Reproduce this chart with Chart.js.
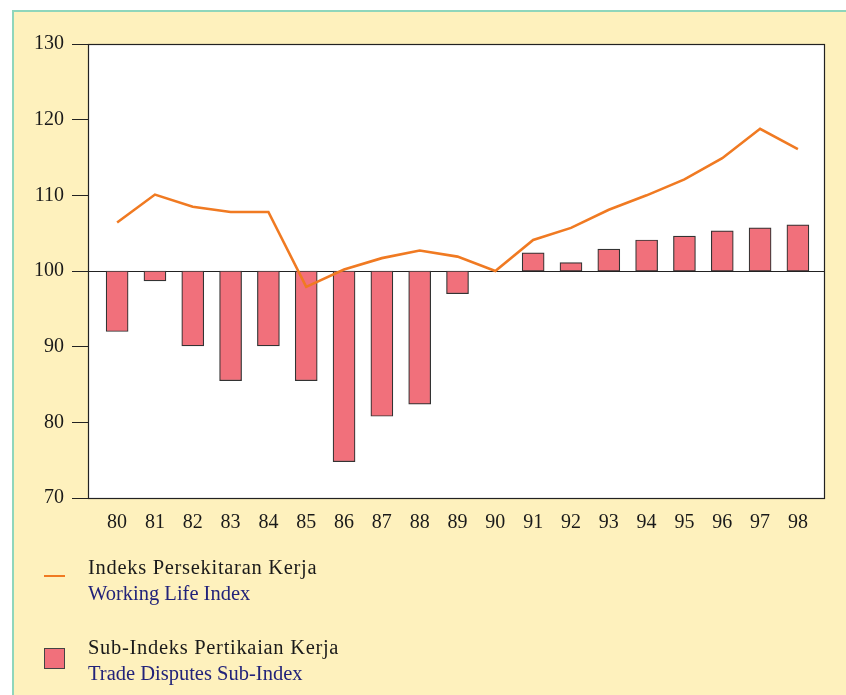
<!DOCTYPE html>
<html>
<head>
<meta charset="utf-8">
<script src="https://cdn.jsdelivr.net/npm/chart.js@4"></script>
<style>
  html, body { margin: 0; padding: 0; background: #fff; }
  #frame {
    position: absolute; left: 12px; top: 10px; width: 834px; height: 685px;
    background: #fef1bd; border-left: 2px solid #8fd6bb; border-top: 2px solid #8fd6bb;
  }
  #chart { position: absolute; left: 0; top: 0; }
  .legend { position: absolute; font-family: "Liberation Serif", serif; font-size: 20.5px; line-height: 26px; }
  .legend .ms { color: #1a1a1a; letter-spacing: 0.7px; }
  .legend .en { color: #22237a; }
  .swatch-line { position: absolute; left: 44px; top: 575px; width: 21px; height: 2px; background: #f07a22; }
  .swatch-box { position: absolute; left: 44px; top: 648px; width: 19px; height: 19px; background: #f1707b; border: 1px solid #444; }
</style>
</head>
<body>
<div id="frame"></div>
<canvas id="chart" width="846" height="695"></canvas>
<div class="swatch-line"></div>
<div class="legend" style="left:88px; top:554px;"><div class="ms">Indeks Persekitaran Kerja</div><div class="en">Working Life Index</div></div>
<div class="swatch-box"></div>
<div class="legend" style="left:88px; top:634px;"><div class="ms">Sub-Indeks Pertikaian Kerja</div><div class="en">Trade Disputes Sub-Index</div></div>
<script>
// tahun 1980 - 1998
const years = [80, 81, 82, 83, 84, 85, 86, 87, 88, 89, 90, 91, 92, 93, 94, 95, 96, 97, 98];
// Sub-Indeks Pertikaian Kerja (bar, dari garis 100)
const disputes = [92.0, 98.7, 90.1, 85.5, 90.1, 85.5, 74.8, 80.8, 82.4, 97.0, null, 102.4, 101.1, 102.9, 104.1, 104.6, 105.3, 105.7, 106.1];
// Indeks Persekitaran Kerja (garis)
const workingLife = [106.4, 110.1, 108.5, 107.8, 107.8, 97.9, 100.2, 101.7, 102.7, 101.9, 100.0, 104.1, 105.7, 108.1, 110.0, 112.1, 114.9, 118.8, 116.1];
const yTicks = [70, 80, 90, 100, 110, 120, 130];
const baseValue = 100;

const FONT = '"Liberation Serif", serif';

const plotFrame = {
  id: 'plotFrame',
  beforeDatasetsDraw(chart) {
    const { ctx, chartArea: a, scales } = chart;
    ctx.save();
    ctx.fillStyle = '#ffffff';
    ctx.fillRect(a.left, a.top, a.right - a.left, a.bottom - a.top);
    // garis 100
    const y = Math.round(scales.y.getPixelForValue(baseValue)) + 0.5;
    ctx.strokeStyle = '#222';
    ctx.lineWidth = 1;
    ctx.beginPath();
    ctx.moveTo(a.left, y);
    ctx.lineTo(a.right, y);
    ctx.stroke();
    ctx.restore();
  },
  afterDatasetsDraw(chart) {
    const { ctx, chartArea: a } = chart;
    ctx.save();
    ctx.strokeStyle = '#222';
    ctx.lineWidth = 1.2;
    ctx.strokeRect(Math.round(a.left) + 0.5, Math.round(a.top) + 0.5, Math.round(a.right - a.left), Math.round(a.bottom - a.top));
    ctx.restore();
  }
};

new Chart(document.getElementById('chart'), {
  data: {
    datasets: [
      {
        type: 'line',
        label: 'Indeks Persekitaran Kerja',
        data: years.map((x, i) => ({ x: x, y: workingLife[i] })),
        borderColor: '#f07a22',
        borderWidth: 2.6,
        pointRadius: 0,
        tension: 0,
        order: 0
      },
      {
        type: 'bar',
        label: 'Sub-Indeks Pertikaian Kerja',
        data: years.map((x, i) => ({ x: x, y: disputes[i] === null ? null : [baseValue, disputes[i]] })),
        backgroundColor: '#f1707b',
        borderColor: '#333333',
        borderWidth: 1.2,
        borderSkipped: false,
        barThickness: 22,
        order: 1
      }
    ]
  },
  options: {
    responsive: false,
    animation: false,
    layout: { padding: { left: 0, top: 44, right: 22, bottom: 0 } },
    plugins: { legend: { display: false }, tooltip: { enabled: false } },
    scales: {
      x: {
        type: 'linear',
        offset: false,
        min: 79.23,
        max: 98.69,
        afterBuildTicks: s => { s.ticks = years.map(v => ({ value: v })); },
        afterFit: s => { s.height = 695 - 498; },
        grid: { display: false, offset: false },
        border: { display: false },
        ticks: { color: '#1a1a1a', padding: 5, autoSkip: false, maxRotation: 0, font: { family: FONT, size: 20 } }
      },
      y: {
        min: 70,
        max: 130,
        afterBuildTicks: s => { s.ticks = yTicks.map(v => ({ value: v })); },
        afterFit: s => { s.width = 88; },
        grid: { drawOnChartArea: false, drawTicks: true, tickLength: 16, color: '#222', lineWidth: 1 },
        border: { display: false },
        ticks: { color: '#1a1a1a', padding: 8, font: { family: FONT, size: 20 } }
      }
    }
  },
  plugins: [plotFrame]
});
</script>
</body>
</html>
